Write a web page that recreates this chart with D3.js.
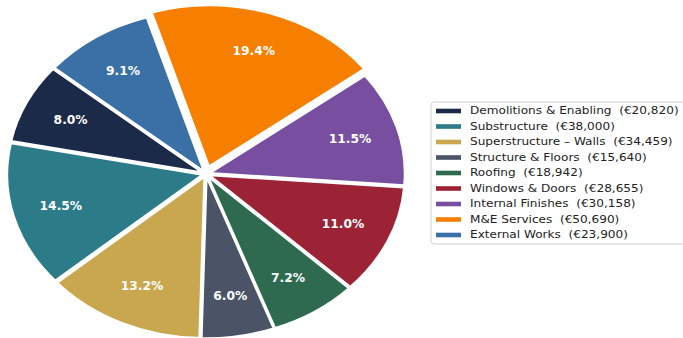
<!DOCTYPE html>
<html>
<head>
<meta charset="utf-8">
<script src="https://cdn.jsdelivr.net/npm/d3@7"></script>
<style>
  body { margin: 0; background: #fff; }
  svg { display: block; font-family: "DejaVu Sans", sans-serif; }
</style>
</head>
<body>
<div id="chart"></div>
<script>
// Cost breakdown data
const categories = ["Demolitions & Enabling", "Substructure", "Superstructure \u2013 Walls",
  "Structure & Floors", "Roofing", "Windows & Doors", "Internal Finishes",
  "M&E Services", "External Works"];
const costs = [20820, 38000, 34459, 15640, 18942, 28655, 30158, 50690, 23900];
// percentage labels as printed on the slices
const pctLabels = ["8.0%", "14.5%", "13.2%", "6.0%", "7.2%", "11.0%", "11.5%", "19.4%", "9.1%"];
const colors = ["#1b2a48", "#2c7b88", "#c9a74f", "#4a5466", "#2d6a4f",
  "#9b2335", "#774ea0", "#f77f00", "#3a70a6"];
const explode = [0.02, 0.02, 0.02, 0.02, 0.02, 0.02, 0.02, 0.05, 0.02];

const width = 683, height = 338;
const cx = 206, cy = 174;
const rx = 195, ry = 161;

const svg = d3.select("#chart")
    .append("svg")
    .attr("width", width)
    .attr("height", height);

const data = categories.map((c, i) => ({
    name: c, value: costs[i], pct: pctLabels[i], color: colors[i], explode: explode[i]
}));

// matplotlib style: startangle 140, counterclockwise
const start = (90 - 140) * Math.PI / 180;
const pie = d3.pie()
    .sort(null)
    .value(d => d.value)
    .startAngle(start)
    .endAngle(start - 2 * Math.PI);

const arcs = pie(data);
const arc = d3.arc().innerRadius(0).outerRadius(rx);

const g = svg.append("g");

const slice = g.selectAll(".slice")
    .data(arcs)
    .enter().append("g")
    .attr("class", "slice")
    .attr("transform", d => {
        const a = (d.startAngle + d.endAngle) / 2;
        const dx = Math.sin(a) * d.data.explode * rx;
        const dy = -Math.cos(a) * d.data.explode * ry;
        return `translate(${cx + dx},${cy + dy}) scale(1,${ry / rx})`;
    });

slice.append("path")
    .attr("d", arc)
    .attr("fill", d => d.data.color)
    .attr("stroke", "#fff")
    .attr("stroke-width", 2)
    .attr("vector-effect", "non-scaling-stroke");

// Percent labels
g.selectAll(".pct")
    .data(arcs)
    .enter().append("text")
    .attr("class", "pct")
    .attr("transform", d => {
        const a = (d.startAngle + d.endAngle) / 2;
        const x = cx + Math.sin(a) * (0.75 + d.data.explode) * rx;
        const y = cy - Math.cos(a) * (0.75 + d.data.explode) * ry;
        return `translate(${x},${y}) scale(1,0.93)`;
    })
    .attr("text-anchor", "middle")
    .attr("dominant-baseline", "central")
    .attr("fill", "#fff")
    .attr("font-weight", "bold")
    .attr("font-size", 12.3)
    .text(d => d.data.pct);

// Legend
const fmt = d3.format(",");
const legend = svg.append("g").attr("transform", "translate(431,102)");

legend.append("rect")
    .attr("width", 262)
    .attr("height", 142)
    .attr("rx", 3)
    .attr("fill", "#fff")
    .attr("stroke", "#d0d0d0")
    .attr("stroke-width", 1);

const item = legend.selectAll(".item")
    .data(data)
    .enter().append("g")
    .attr("class", "item")
    .attr("transform", (d, i) => `translate(0,${9 + i * 15.5})`);

item.append("rect")
    .attr("x", 5)
    .attr("y", -2.3)
    .attr("width", 25)
    .attr("height", 4.6)
    .attr("fill", d => d.color);

item.append("text")
    .attr("transform", "translate(39,0) scale(1,0.84)")
    .attr("dominant-baseline", "central")
    .attr("font-size", 12.1)
    .attr("fill", "#222")
    .style("white-space", "pre")
    .text(d => `${d.name}  (\u20ac${fmt(d.value)})`);
</script>
</body>
</html>
